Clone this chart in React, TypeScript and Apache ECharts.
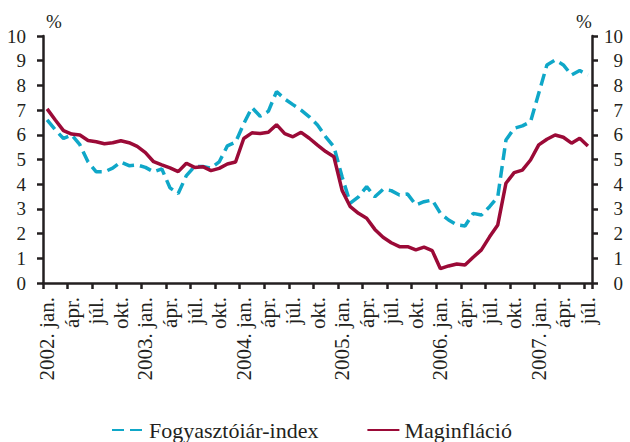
import React, { useEffect, useRef } from "react";
import * as echarts from "echarts";

const years = [2002, 2003, 2004, 2005, 2006, 2007];
const monthNames = ["jan.", "febr.", "márc.", "ápr.", "máj.", "jún.", "júl.", "aug.", "szept.", "okt.", "nov.", "dec."];
const monthCount = 67; // 2002. jan. – 2007. júl.

const yTicks = [0, 1, 2, 3, 4, 5, 6, 7, 8, 9, 10];

const seriesNames = ["Fogyasztóiár-index", "Maginfláció"];

const cpi = [
  6.6, 6.2, 5.85, 6.0, 5.6, 4.9, 4.5, 4.5, 4.65, 4.9, 4.75, 4.78,
  4.68, 4.5, 4.62, 3.85, 3.62, 4.35, 4.72, 4.72, 4.65, 4.9, 5.55, 5.7,
  6.45, 7.1, 6.75, 6.95, 7.75, 7.45, 7.22, 7.0, 6.73, 6.4, 5.92, 5.52,
  4.3, 3.23, 3.49, 3.9, 3.49, 3.79, 3.74, 3.56, 3.6, 3.16, 3.29, 3.36,
  2.82, 2.55, 2.35, 2.31, 2.82, 2.75, 3.09, 3.49, 5.79, 6.26, 6.36, 6.53,
  7.68, 8.83, 9.03, 8.83, 8.42, 8.6, 8.42,
];

const core = [
  7.05, 6.6, 6.17, 6.03, 5.99, 5.77, 5.72, 5.64, 5.68, 5.76, 5.68, 5.53,
  5.28, 4.91, 4.78, 4.66, 4.51, 4.85, 4.68, 4.71, 4.55, 4.64, 4.82, 4.9,
  5.85, 6.08, 6.05, 6.1, 6.41, 6.05, 5.92, 6.1, 5.86, 5.58, 5.32, 5.11,
  3.75, 3.09, 2.82, 2.62, 2.17, 1.85, 1.63, 1.47, 1.47, 1.34, 1.45, 1.31,
  0.58, 0.69, 0.77, 0.73, 1.04, 1.34, 1.87, 2.35, 4.04, 4.47, 4.57, 4.98,
  5.59, 5.82, 5.99, 5.9, 5.66, 5.86, 5.55,
];

const categories: string[] = [];
for (let i = 0; i < monthCount; i++) {
  const y = years[Math.floor(i / 12)];
  const m = i % 12;
  categories.push(m === 0 ? `${y}. ${monthNames[m]}` : monthNames[m]);
}

const FONT = "Liberation Serif";
const INK = "#231F20";
const CYAN = "#0FA7C8";
const RED = "#9B0A37";

export default function App() {
  const ref = useRef<HTMLDivElement>(null);
  useEffect(() => {
    if (!ref.current) return;
    const chart = echarts.init(ref.current, undefined, { renderer: "svg" });
    const yAxisBase = {
      type: "value",
      min: yTicks[0],
      max: yTicks[yTicks.length - 1],
      interval: 1,
      splitLine: { show: false },
      axisLine: { show: true, lineStyle: { color: INK, width: 2.5 } },
      axisTick: { show: true, inside: false, length: 6, lineStyle: { color: INK, width: 2.5 } },
    };
    chart.setOption({
      animation: false,
      backgroundColor: "#ffffff",
      textStyle: { fontFamily: FONT, color: INK },
      grid: { left: 43, right: 38, top: 36, bottom: 159, containLabel: false },
      legend: {
        data: seriesNames,
        left: 106,
        top: 414,
        itemWidth: 32,
        itemHeight: 10,
        itemGap: 48,
        itemStyle: { opacity: 0 },
        textStyle: { fontFamily: FONT, fontSize: 22, color: INK },
      },
      graphic: [
        { type: "text", left: 46, top: 12, style: { text: "%", fontFamily: FONT, fontSize: 19, fill: INK } },
        { type: "text", left: 576, top: 12, style: { text: "%", fontFamily: FONT, fontSize: 19, fill: INK } },
      ],
      xAxis: {
        type: "category",
        data: categories,
        boundaryGap: true,
        axisLine: { show: true, lineStyle: { color: INK, width: 2.5 } },
        axisTick: { show: true, interval: 2, length: 6, alignWithLabel: false, lineStyle: { color: INK, width: 2.5 } },
        axisLabel: {
          interval: 2,
          rotate: 90,
          margin: 14,
          fontFamily: FONT,
          fontSize: 21,
          color: INK,
        },
        splitLine: { show: false },
      },
      yAxis: [
        {
          ...yAxisBase,
          position: "left",
          axisLabel: { margin: 17, fontFamily: FONT, fontSize: 19, color: INK },
        },
        {
          ...yAxisBase,
          position: "right",
          axisLabel: { margin: 31, align: "right", fontFamily: FONT, fontSize: 19, color: INK },
        },
      ],
      series: [
        {
          name: seriesNames[0],
          type: "line",
          data: cpi,
          yAxisIndex: 0,
          symbol: "none",
          lineStyle: { color: CYAN, width: 3.5, type: [12, 6] },
          itemStyle: { color: CYAN },
        },
        {
          name: seriesNames[1],
          type: "line",
          data: core,
          yAxisIndex: 0,
          symbol: "none",
          lineStyle: { color: RED, width: 3.5 },
          itemStyle: { color: RED },
        },
      ],
    });
    return () => chart.dispose();
  }, []);
  return <div ref={ref} style={{ width: 630, height: 442, position: "absolute", left: 0, top: 0 }} />;
}
